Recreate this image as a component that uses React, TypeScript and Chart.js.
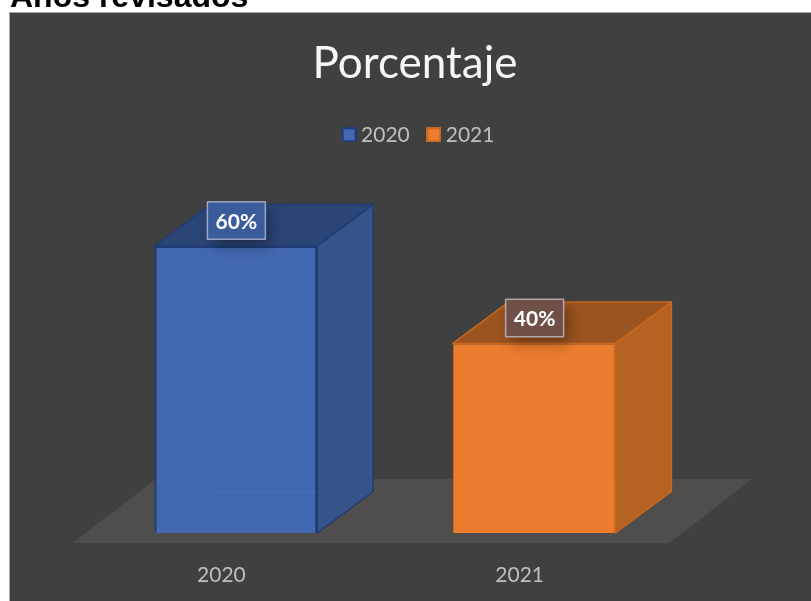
import React, { useEffect, useRef } from "react";
import { Chart, registerables } from "chart.js";

Chart.register(...registerables);

const categories = ["2020", "2021"];
const series2020 = [60, null];
const series2021 = [null, 40];
const chartTitle = "Porcentaje";
const heading = "Años revisados";

const palette = [
  { front: "#4268b2", side: "#37548a", top: "#2b4577", edge: "#1f3c75", box: "#3b5c9a", back: "rgba(70,125,190,0.45)" },
  { front: "#ec7c2e", side: "#b56222", top: "#9b5420", edge: "#c9681f", box: "#6e5049", back: "" },
];

const DEPTH_X = 56;
const DEPTH_Y = 41.5;

function swatch(fill: string, edge: string) {
  const c = document.createElement("canvas");
  c.width = 15;
  c.height = 15;
  const g = c.getContext("2d")!;
  g.fillStyle = fill;
  g.fillRect(0, 0, 15, 15);
  g.strokeStyle = edge;
  g.lineWidth = 2;
  g.strokeRect(1, 1, 13, 13);
  return c;
}

function poly(ctx: CanvasRenderingContext2D, pts: number[][], fill?: string, stroke?: string, lw = 1.5) {
  ctx.beginPath();
  pts.forEach((p, i) => (i ? ctx.lineTo(p[0], p[1]) : ctx.moveTo(p[0], p[1])));
  ctx.closePath();
  if (fill) {
    ctx.fillStyle = fill;
    ctx.fill();
  }
  if (stroke) {
    ctx.strokeStyle = stroke;
    ctx.lineWidth = lw;
    ctx.lineJoin = "round";
    ctx.stroke();
  }
}

const scene = {
  id: "scene",
  afterLayout(chart: any) {
    chart.titleBlock.left += 30;
    chart.titleBlock.right += 30;
    chart.legend.left += 36;
    chart.legend.right += 36;
  },
  beforeDraw(chart: any) {
    const { ctx, chartArea: a } = chart;
    ctx.save();
    ctx.fillStyle = "#ffffff";
    ctx.fillRect(0, 0, chart.width, chart.height);
    ctx.fillStyle = "#404040";
    ctx.fillRect(10, 12, chart.width - 10, chart.height - 12);
    ctx.strokeStyle = "#a6a6a6";
    ctx.lineWidth = 1;
    ctx.strokeRect(9.5, 12.5, chart.width, chart.height);
    ctx.restore();
    ctx.save();
    const x0 = a.left - 14;
    const x1 = a.right - 14;
    const y0 = a.bottom + 10;
    poly(ctx, [[x0, y0], [x1, y0], [x1 + 83, y0 - 64], [x0 + 83, y0 - 64]], "#504e4d");
    ctx.restore();
  },
  afterDatasetsDraw(chart: any) {
    const { ctx, chartArea: a } = chart;
    chart.data.datasets.forEach((_: any, di: number) => {
      const meta = chart.getDatasetMeta(di);
      const c = palette[di];
      meta.data.forEach((bar: any, i: number) => {
        const v = chart.data.datasets[di].data[i];
        if (v == null) return;
        const l = bar.x - bar.width / 2;
        const r = bar.x + bar.width / 2;
        const t = bar.y;
        const b = Math.min(bar.base, a.bottom);
        ctx.save();
        if (c.back) {
          ctx.strokeStyle = c.back;
          ctx.lineWidth = 1;
          ctx.beginPath();
          ctx.moveTo(l + DEPTH_X, t - DEPTH_Y + 42);
          ctx.lineTo(l + DEPTH_X, b - DEPTH_Y);
          ctx.lineTo(l, b);
          ctx.moveTo(l + DEPTH_X, b - DEPTH_Y);
          ctx.lineTo(r, b - DEPTH_Y);
          ctx.stroke();
        }
        poly(ctx, [[r, t], [r + DEPTH_X, t - DEPTH_Y], [r + DEPTH_X, b - DEPTH_Y], [r, b]], c.side, c.edge);
        poly(ctx, [[l, t], [l + DEPTH_X, t - DEPTH_Y], [r + DEPTH_X, t - DEPTH_Y], [r, t]], c.top, c.edge);

        const bw = 58;
        const bh = 37.5;
        const bx = bar.x - bw / 2 + 0.5;
        const by = t - 25.5 - bh / 2;
        ctx.shadowColor = "rgba(0,0,0,0.32)";
        ctx.shadowBlur = 14;
        ctx.shadowOffsetX = 5;
        ctx.shadowOffsetY = 7;
        ctx.fillStyle = c.box;
        ctx.fillRect(bx, by, bw, bh);
        ctx.shadowColor = "transparent";
        ctx.strokeStyle = "rgba(215,215,230,0.65)";
        ctx.lineWidth = 1.5;
        ctx.strokeRect(bx, by, bw, bh);
        ctx.fillStyle = "#ffffff";
        ctx.font = "bold 21px Lato";
        ctx.textAlign = "center";
        ctx.textBaseline = "middle";
        ctx.fillText(v + "%", bar.x + 0.5, t - 24);
        ctx.restore();
      });
    });
  },
};

export default function App() {
  const ref = useRef<HTMLCanvasElement>(null);
  useEffect(() => {
    document.body.style.margin = "0";
    const chart = new Chart(ref.current!, {
      type: "bar",
      data: {
        labels: categories,
        datasets: [
          { label: "2020", data: series2020, backgroundColor: palette[0].front, borderColor: palette[0].edge, borderWidth: 2 },
          { label: "2021", data: series2021, backgroundColor: palette[1].front, borderColor: palette[1].edge, borderWidth: 1 },
        ],
      },
      options: {
        responsive: false,
        animation: false,
        layout: { padding: { left: 86.75, right: 127.75, top: 12, bottom: 0 } },
        datasets: { bar: { barPercentage: 0.545, categoryPercentage: 1 } },
        scales: {
          x: {
            stacked: true,
            grid: { display: false, drawTicks: false },
            border: { display: false },
            ticks: { color: "#bfbfbf", font: { family: "Lato", size: 21 }, padding: 29.5, labelOffset: -14.5, maxRotation: 0 },
            afterFit: (s: any) => {
              s.height = 68;
            },
          },
          y: { display: false, min: 1.1, max: 78.6 },
        },
        plugins: {
          tooltip: { enabled: false },
          title: {
            display: true,
            text: chartTitle,
            color: "#f7f7f7",
            font: { family: "Lato", size: 44, weight: "400", lineHeight: 1.2 },
            padding: { top: 25, bottom: 12 },
          },
          legend: {
            position: "top",
            labels: {
              color: "#bfbfbf",
              font: { family: "Lato", size: 21 },
              usePointStyle: true,
              pointStyleWidth: 3,
              padding: 22.5,
              generateLabels: (c: any) =>
                Chart.defaults.plugins.legend.labels.generateLabels(c).map((it: any, i: number) => ({
                  ...it,
                  pointStyle: swatch(palette[i].front, palette[i].edge),
                })),
            },
          },
        },
      } as any,
      plugins: [scene],
    });
    return () => chart.destroy();
  }, []);
  return (
    <div style={{ position: "relative", width: 811, height: 601, overflow: "hidden", background: "#fff" }}>
      <canvas ref={ref} width={811} height={601} style={{ display: "block" }} />
      <div
        style={{
          position: "absolute",
          left: 10,
          top: -22,
          font: "bold 32px/36px 'Liberation Sans'",
          color: "#000",
          whiteSpace: "nowrap",
        }}
      >
        {heading}
      </div>
    </div>
  );
}
